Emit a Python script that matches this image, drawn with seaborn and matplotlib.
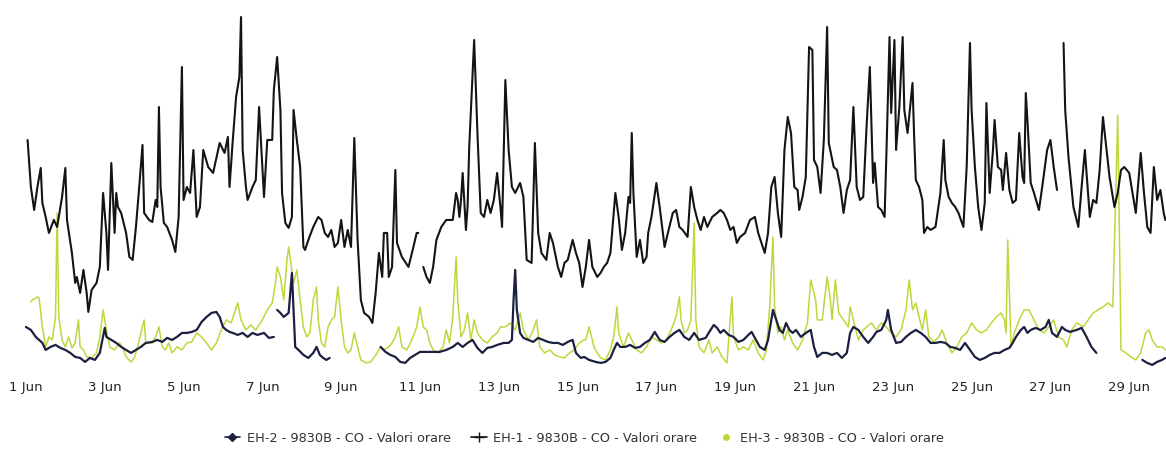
import numpy as np
import pandas as pd
import matplotlib
matplotlib.use("Agg")
import matplotlib.pyplot as plt
import matplotlib.dates as mdates
from matplotlib.lines import Line2D
import seaborn as sns

# Hourly CO readings, June: hours since 1 Jun 00:00 and values (mg/m3).
# nan marks a break in the record.
eh1_hours = [
    1, 3, 5, 7, 9, 10, 12, 14, 17, 19,
    21, 22, 24, 25, 28, 30, 31, 33, 35, 37,
    38, 40, 43, 45, 47, 49, 50, 52, 54, 55,
    56, 58, 61, 63, 65, 67, 69, 71, 72, 75,
    77, 79, 80, 81, 82, 84, 86, 89, 91, 93,
    95, 96, 98, 100, 102, 104, 106, 108, 111, 114,
    118, 121, 123, 124, 126, 128, 130, 131, 132, 134,
    135, 138, 140, 142, 145, 147, 150, 151, 153, 155,
    156, 158, 160, 162, 163,
    165, 167, 169, 170, 172, 175, 178, 180, 182, 184,
    186, 188, 190, 192, 194, 196, 198, 200, 202, 204,
    206, 209, 211, 213, 215, 217, 218, 220, 221, 223,
    225, 226, 229, 233, 236, 238, 239, 240, 242, 244,
    246, 248, 250, 253, 256, 260, 262, 263, 264, 265,
    266, 268, 269, 270, 272, 273, 275, 277, 279, 281,
    283, 285, 287, 289, 290, 292, 294, 296, 298, 301,
    303, 305, 308, 310, 312, 314, 317, 319, 321, 324,
    326, 328, 330, 333, 335, 337,
    339, 341, 343, 345, 348, 350, 352, 354, 356, 358,
    359, 361, 363, 365, 367, 368, 369, 370, 372, 374,
    376, 378, 379, 381, 384, 386, 389, 391, 394, 396,
    398, 400, 403, 405, 407, 409, 411, 413, 415, 418,
    421, 423, 425, 427, 429, 431, 433, 435, 438, 441,
    444, 446, 448, 450, 452, 454, 456, 458, 460, 462,
    464, 466, 468, 470, 471, 473, 475, 477, 479, 480,
    482, 484, 486, 488, 489, 492, 494, 496, 498, 500,
    502, 504, 506, 508, 510, 512, 514, 516, 517, 519,
    521, 523, 524, 526, 527, 529, 530, 532, 534, 535,
    537, 540, 541, 542, 544, 546, 547, 549, 551, 554,
    557, 559, 560, 562, 564, 566, 568, 571, 573, 575,
    576, 578, 580, 582, 584, 585, 587, 589, 590, 592,
    594, 595, 597, 599, 601, 603, 605, 607, 608, 609,
    610, 612, 614, 617, 619, 622, 624, 626, 628, 630,
    632, 633, 635, 638, 641, 643, 645, 646, 648, 650,
    652, 654, 656, 658, 660, 662, 663, 665, 667, 669,
    672, 674, 676, 679, 681, 683, 685, 687, 689, 691,
    693, 694,
]
eh1_values = [
    2.35, 1.88, 1.65, 1.88, 2.07, 1.72, 1.58, 1.42, 1.55, 1.48,
    1.68, 1.78, 2.07, 1.55, 1.22, 0.92, 0.98, 0.82, 1.05, 0.82,
    0.63, 0.85, 0.92, 1.08, 1.82, 1.42, 1.05, 2.12, 1.42, 1.82,
    1.68, 1.62, 1.42, 1.18, 1.15, 1.48, 1.88, 2.30, 1.62, 1.55,
    1.53, 1.75, 1.68, 2.68, 1.88, 1.52, 1.48, 1.35, 1.23, 1.58,
    3.08, 1.75, 1.88, 1.82, 2.25, 1.58, 1.68, 2.25, 2.08, 2.02,
    2.32, 2.22, 2.38, 1.88, 2.35, 2.78, 2.98, 3.58, 2.25, 1.88,
    1.75, 1.88, 1.95, 2.68, 1.78, 2.35, 2.35, 2.85, 3.18, 2.65,
    1.82, 1.52, 1.47, 1.58, 2.65,
    2.35, 2.08, 1.28, 1.25, 1.35, 1.48, 1.58, 1.55, 1.42, 1.38,
    1.45, 1.28, 1.32, 1.55, 1.28, 1.45, 1.28, 2.37, 1.35, 0.75,
    0.62, 0.58, 0.52, 0.82, 1.22, 0.98, 1.42, 1.42, 0.98, 1.08,
    2.05, 1.32, 1.18, 1.08, 1.28, 1.42, 1.42, np.nan, 1.08, 0.98,
    0.92, 1.08, 1.35, 1.48, 1.55, 1.55, 1.82, 1.75, 1.58, 1.75,
    2.02, 1.45, 1.68, 2.28, 2.98, 3.35, 2.42, 1.62, 1.58, 1.75,
    1.62, 1.75, 2.02, 1.68, 1.48, 2.95, 2.25, 1.88, 1.82, 1.92,
    1.78, 1.15, 1.12, 2.32, 1.42, 1.22, 1.15, 1.42, 1.32, 1.08,
    0.98, 1.12, 1.15, 1.35, 1.22, 1.12,
    0.88, 1.08, 1.35, 1.08, 0.98, 1.02, 1.08, 1.12, 1.22, 1.62,
    1.82, 1.58, 1.25, 1.42, 1.78, 1.72, 2.42, 1.82, 1.18, 1.35,
    1.12, 1.18, 1.42, 1.58, 1.92, 1.68, 1.28, 1.42, 1.62, 1.65,
    1.48, 1.45, 1.38, 1.88, 1.68, 1.55, 1.45, 1.58, 1.48, 1.58,
    1.62, 1.65, 1.62, 1.55, 1.45, 1.48, 1.32, 1.38, 1.42, 1.55,
    1.58, 1.42, 1.32, 1.22, 1.42, 1.88, 1.98, 1.62, 1.38, 2.25,
    2.58, 2.42, 1.88, 1.85, 1.65, 1.78, 1.98, 3.28, 3.25, 2.15,
    2.08, 1.82, 2.35, 3.48, 2.32, 2.08, 2.05, 1.88, 1.62, 1.85,
    1.95, 2.68, 1.88, 1.75, 1.78, 2.48, 3.08, 1.92, 2.12, 1.68,
    1.65, 1.58, 2.15, 3.38, 2.62, 3.35, 2.25, 2.68, 3.38, 2.65,
    2.42, 2.92, 2.38, 1.95, 1.88, 1.75, 1.42, 1.48, 1.45, 1.48,
    1.82, 2.35, 1.95, 1.78, 1.72, 1.68, 1.62, 1.48, 2.08, 3.32,
    2.65, 2.08, 1.68, 1.45, 1.72, 2.72, 1.82, 2.25, 2.55, 2.08,
    2.05, 1.85, 2.22, 1.85, 1.72, 1.75, 2.42, 1.98, 1.92, 2.82,
    2.55, 1.92, 1.82, 1.65, 1.88, 2.25, 2.35, 2.08, 1.85, np.nan,
    3.32, 2.65, 2.18, 1.68, 1.48, 1.88, 2.25, 2.02, 1.58, 1.75,
    1.72, 2.05, 2.58, 2.28, 1.98, 1.78, 1.68, 1.82, 2.05, 2.08,
    2.02, 1.82, 1.62, 2.22, 1.82, 1.48, 1.42, 2.08, 1.75, 1.85,
    1.62, 1.55,
]

eh2_hours = [
    0, 3, 6, 10, 12, 15, 18, 21, 24, 27,
    30, 33, 36, 39, 42, 45, 48, 49, 52, 55,
    58, 61, 64, 67, 70, 73, 77, 80, 83, 86,
    89, 92, 95, 98, 101, 104, 107, 110, 113, 116,
    118, 120, 122, 124, 126, 129, 132, 135, 138, 141,
    145, 148, 151, 152, 153, 155, 157, 160, 162, 164,
    166, 169, 172, 175, 177, 179, 181, 183, 185, 195,
    216, 219, 222, 225, 228, 231, 234, 237, 240, 244,
    248, 252, 256, 260, 263, 266, 269, 272, 275, 278,
    281, 284, 287, 291, 294, 296, 297, 298, 299, 301,
    303, 306, 309, 312, 315, 318, 321, 324, 327, 330,
    333, 335, 338,
    340, 343, 347, 350, 353, 356, 358, 360, 362, 365,
    368, 371, 374, 377, 380, 383, 386, 389, 392, 395,
    398, 401, 404, 407, 410, 414, 417, 419, 421, 423,
    425, 428, 431, 434, 437, 440, 442, 444, 447, 450,
    452, 454, 455, 457, 459, 461, 463, 465, 467, 469,
    472, 475, 478, 480, 482, 485, 488, 491, 494, 497,
    500, 502, 504, 507, 510, 513, 516,
    518, 521, 524, 525, 527, 530, 533, 536, 539, 542,
    545, 548, 551, 554, 557, 560, 563, 566, 569, 572,
    575, 578, 581, 584, 587, 590, 593, 596, 599, 601,
    603, 606, 608, 610, 612, 615, 618, 621, 623, 625,
    628, 631, 633, 636, 640, 643, 646, 649, 652, 660,
    680, 683, 686, 689, 692, 694,
]
eh2_values = [
    0.48, 0.45, 0.38, 0.32, 0.25, 0.28, 0.30, 0.27, 0.25, 0.22,
    0.18, 0.17, 0.13, 0.17, 0.15, 0.22, 0.47, 0.38, 0.35, 0.32,
    0.28, 0.25, 0.22, 0.25, 0.28, 0.32, 0.33, 0.35, 0.33, 0.37,
    0.35, 0.38, 0.42, 0.42, 0.43, 0.45, 0.53, 0.58, 0.62, 0.63,
    0.58, 0.48, 0.45, 0.43, 0.42, 0.40, 0.42, 0.38, 0.42, 0.40,
    0.42, 0.37, 0.38, np.nan, 0.65, 0.62, 0.58, 0.62, 1.02, 0.28,
    0.25, 0.20, 0.17, 0.22, 0.28, 0.20, 0.17, 0.15, 0.17, np.nan,
    0.28, 0.23, 0.20, 0.18, 0.13, 0.12, 0.17, 0.20, 0.23, 0.23,
    0.23, 0.23, 0.25, 0.28, 0.32, 0.28, 0.32, 0.35, 0.27, 0.22,
    0.27, 0.28, 0.30, 0.32, 0.32, 0.35, 0.75, 1.05, 0.65, 0.42,
    0.37, 0.35, 0.33, 0.37, 0.35, 0.33, 0.32, 0.32, 0.30, 0.33,
    0.35, 0.22, 0.17,
    0.18, 0.15, 0.13, 0.12, 0.13, 0.17, 0.25, 0.32, 0.28, 0.28,
    0.30, 0.27, 0.28, 0.32, 0.35, 0.43, 0.35, 0.33, 0.38, 0.42,
    0.45, 0.38, 0.35, 0.42, 0.35, 0.37, 0.45, 0.50, 0.47, 0.42,
    0.45, 0.40, 0.38, 0.33, 0.35, 0.40, 0.43, 0.37, 0.28, 0.25,
    0.35, 0.55, 0.65, 0.55, 0.45, 0.42, 0.52, 0.45, 0.42, 0.45,
    0.38, 0.42, 0.45, 0.28, 0.18, 0.22, 0.22, 0.20, 0.22, 0.17,
    0.22, 0.42, 0.48, 0.45, 0.38, 0.32, 0.38,
    0.43, 0.45, 0.55, 0.65, 0.45, 0.32, 0.33, 0.38, 0.42, 0.45,
    0.42, 0.38, 0.32, 0.32, 0.33, 0.32, 0.28, 0.27, 0.25, 0.32,
    0.25, 0.18, 0.15, 0.17, 0.20, 0.22, 0.22, 0.25, 0.27, 0.32,
    0.38, 0.45, 0.48, 0.42, 0.45, 0.47, 0.45, 0.48, 0.55, 0.42,
    0.38, 0.48, 0.45, 0.43, 0.45, 0.47, 0.38, 0.28, 0.22, np.nan,
    0.15, 0.12, 0.10, 0.13, 0.15, 0.17,
]

eh3_hours = [
    3, 4, 7, 8, 10, 12, 14, 16, 18, 19,
    20, 22, 24, 26, 28, 30, 32, 33, 35, 37,
    40, 43, 45, 47, 49, 51, 54, 57, 59, 61,
    64, 66, 68, 70, 72, 73, 77, 79, 81, 83,
    85, 87, 89, 92, 95, 98, 101, 104, 107, 110,
    113, 116, 119, 122, 125, 127, 129, 131, 134, 137,
    140, 144, 147, 150, 152, 153, 155, 157, 159, 160,
    163, 165, 167, 169, 171, 173, 175, 177, 178, 180,
    182, 184, 186, 188, 190, 192, 194, 196, 198, 200,
    202, 204, 207, 210, 214, 216, 218, 221, 223, 225,
    227, 229, 232, 235, 238, 240, 242, 244, 246, 248,
    251, 254, 256, 258, 260, 262, 263, 265, 267, 269,
    271, 273, 275, 278, 281, 284, 287, 289, 292, 295,
    298, 301, 303, 306, 309, 311, 313, 316, 319, 322,
    325, 328, 331, 334, 337, 340,
    341, 343, 346, 348, 350, 353, 356, 358, 360, 361,
    364, 367, 369, 372, 375, 378, 381, 384, 387, 390,
    393, 396, 398, 399, 401, 403, 405, 407, 408, 410,
    413, 416, 418, 421, 424, 427, 428, 430, 431, 434,
    437, 440, 443, 446, 449, 451, 453, 455, 456, 458,
    460, 462, 464, 467, 470, 473, 476, 478, 481, 482,
    485, 488, 490, 491, 493, 495, 498, 501, 502, 504,
    507, 510, 512, 515, 518,
    521, 524, 527, 530, 533, 536, 538, 540, 542, 544,
    546, 548, 550, 553, 556, 558, 561, 564, 567, 570,
    573, 576, 579, 582, 585, 588, 591, 594, 596, 597,
    598, 600, 602, 605, 608, 611, 614, 617, 620, 623,
    626, 629, 632, 634, 637, 640, 644, 647, 650, 653,
    656, 659, 662, 664, 665, 666, 667, 670, 673, 676,
    679, 682, 684, 686, 689, 692, 694,
]
eh3_values = [
    0.73, 0.75, 0.78, 0.77, 0.48, 0.28, 0.38, 0.35, 0.58, 1.62,
    0.58, 0.35, 0.28, 0.38, 0.27, 0.32, 0.55, 0.28, 0.25, 0.18,
    0.17, 0.22, 0.38, 0.65, 0.45, 0.28, 0.25, 0.32, 0.27, 0.18,
    0.13, 0.17, 0.28, 0.42, 0.55, 0.32, 0.32, 0.38, 0.48, 0.28,
    0.25, 0.32, 0.22, 0.28, 0.25, 0.32, 0.33, 0.42, 0.38, 0.32,
    0.25, 0.32, 0.45, 0.55, 0.52, 0.62, 0.72, 0.55, 0.45, 0.50,
    0.45, 0.55, 0.65, 0.72, 0.92, 1.08, 0.98, 0.75, 1.15, 1.28,
    0.92, 1.05, 0.75, 0.48, 0.38, 0.42, 0.75, 0.88, 0.55, 0.32,
    0.28, 0.48, 0.55, 0.58, 0.88, 0.55, 0.28, 0.22, 0.25, 0.42,
    0.28, 0.15, 0.12, 0.13, 0.22, 0.28, 0.25, 0.28, 0.32, 0.38,
    0.48, 0.28, 0.25, 0.35, 0.48, 0.68, 0.48, 0.45, 0.32, 0.25,
    0.22, 0.28, 0.45, 0.32, 0.58, 1.18, 0.75, 0.38, 0.45, 0.62,
    0.35, 0.55, 0.42, 0.35, 0.32, 0.38, 0.42, 0.48, 0.48, 0.52,
    0.45, 0.62, 0.45, 0.35, 0.45, 0.55, 0.28, 0.22, 0.25, 0.20,
    0.18, 0.17, 0.22, 0.25, 0.32, 0.35,
    0.35, 0.48, 0.28, 0.22, 0.17, 0.15, 0.25, 0.38, 0.68, 0.42,
    0.28, 0.42, 0.35, 0.25, 0.22, 0.28, 0.38, 0.35, 0.32, 0.35,
    0.45, 0.58, 0.78, 0.55, 0.42, 0.45, 0.55, 1.52, 0.55, 0.28,
    0.22, 0.35, 0.22, 0.28, 0.18, 0.12, 0.35, 0.78, 0.38, 0.25,
    0.28, 0.25, 0.35, 0.22, 0.15, 0.25, 0.68, 1.38, 0.68, 0.42,
    0.48, 0.35, 0.45, 0.32, 0.25, 0.35, 0.52, 0.95, 0.75, 0.55,
    0.55, 0.98, 0.75, 0.55, 0.95, 0.62, 0.55, 0.48, 0.68, 0.55,
    0.35, 0.45, 0.48, 0.52, 0.45,
    0.52, 0.48, 0.42, 0.38, 0.45, 0.65, 0.95, 0.65, 0.72, 0.58,
    0.45, 0.65, 0.38, 0.33, 0.38, 0.45, 0.32, 0.22, 0.28, 0.38,
    0.42, 0.52, 0.45, 0.42, 0.45, 0.52, 0.58, 0.62, 0.55, 0.42,
    1.35, 0.28, 0.42, 0.55, 0.65, 0.65, 0.55, 0.45, 0.42, 0.48,
    0.55, 0.38, 0.35, 0.28, 0.45, 0.52, 0.48, 0.55, 0.62, 0.65,
    0.68, 0.72, 0.68, 1.95, 2.60, 1.42, 0.25, 0.22, 0.18, 0.15,
    0.22, 0.42, 0.45, 0.35, 0.28, 0.28, 0.25,
]

series_labels = [
    "EH-2 - 9830B - CO - Valori orare",
    "EH-1 - 9830B - CO - Valori orare",
    "EH-3 - 9830B - CO - Valori orare",
]

start = pd.Timestamp("2023-06-01")


def to_frame(hours, values):
    df = pd.DataFrame({"hours": hours, "value": values})
    # each nan starts a new piece of the line
    df["seg"] = df["value"].isna().cumsum()
    df = df.dropna()
    df["time"] = start + pd.to_timedelta(df["hours"], unit="h")
    return df


eh1 = to_frame(eh1_hours, eh1_values)
eh2 = to_frame(eh2_hours, eh2_values)
eh3 = to_frame(eh3_hours, eh3_values)

sns.set_theme(style="white")
plt.rcParams["font.family"] = ["DejaVu Sans"]

black = "#141414"
navy = "#1c2040"
green = "#bcd83c"

fig = plt.figure(figsize=(11.66, 4.55), dpi=100)
ax = fig.add_axes([0.0, 0.187, 1.0, 0.791])

sns.lineplot(data=eh3, x="time", y="value", units="seg", estimator=None,
             color=green, lw=1.1, ax=ax, legend=False)
sns.lineplot(data=eh2, x="time", y="value", units="seg", estimator=None,
             color=navy, lw=1.6, ax=ax, legend=False)
sns.lineplot(data=eh1, x="time", y="value", units="seg", estimator=None,
             color=black, lw=1.5, ax=ax, legend=False)

ax.set_xlim(start - pd.Timedelta(hours=15.8), start + pd.Timedelta(hours=694.4))
ax.set_ylim(0.05, 3.65)

ax.xaxis.set_major_locator(mdates.DayLocator(bymonthday=range(1, 31, 2)))
ax.xaxis.set_major_formatter(mdates.DateFormatter("%-d %b"))
ax.tick_params(axis="x", length=0, pad=8, labelsize=9.5, colors="#222222")
ax.set_yticks([])
ax.set_xlabel("")
ax.set_ylabel("")
sns.despine(ax=ax, left=True, bottom=True)

handles = [
    Line2D([], [], color=navy, lw=1.2, marker="D", markersize=4),
    Line2D([], [], color=black, lw=1.2, marker="+", markersize=7),
    Line2D([], [], color=green, lw=0, marker="o", markersize=4),
]
fig.legend(handles, series_labels, loc="center", bbox_to_anchor=(0.501, 0.037),
           ncol=3, frameon=False, fontsize=9.3, handlelength=1.2,
           columnspacing=1.6, handletextpad=0.5, labelcolor="#333333")

fig.savefig("out.png", dpi=100)
